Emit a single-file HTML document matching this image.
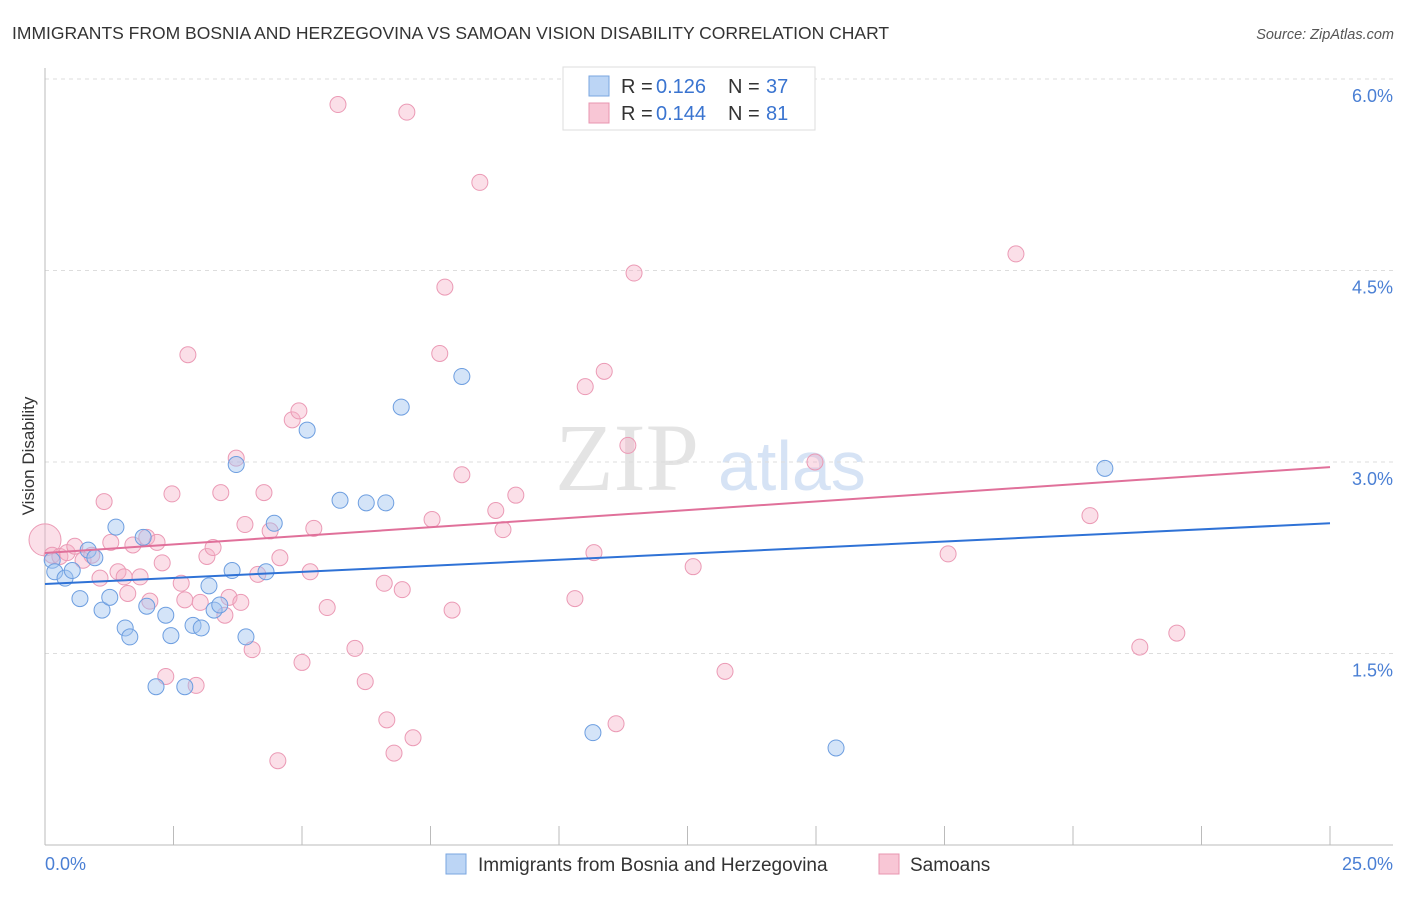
<!DOCTYPE html>
<html><head><meta charset="utf-8"><style>
body{margin:0;background:#fff;font-family:"Liberation Sans",sans-serif;}
svg text{font-family:"Liberation Sans",sans-serif;}
</style></head><body>
<svg id="chart" width="1406" height="892" xmlns="http://www.w3.org/2000/svg">
<text x="12" y="39" font-size="17.5" fill="#333">IMMIGRANTS FROM BOSNIA AND HERZEGOVINA VS SAMOAN VISION DISABILITY CORRELATION CHART</text>
<text x="1394" y="39" font-size="14.5" fill="#555" font-style="italic" text-anchor="end">Source: ZipAtlas.com</text>
<text transform="translate(34,456) rotate(-90)" font-size="17" fill="#333" text-anchor="middle">Vision Disability</text>
<g><text x="555" y="490" font-size="96" fill="#e4e4e4" font-family="Liberation Serif" style="font-family:'Liberation Serif',serif">ZIP</text><text x="718" y="490" font-size="70" fill="#d6e3f5">atlas</text></g>
<g id="grid"></g><g id="axes"></g><g id="marks"></g><g id="lines"></g>
<g>
<rect x="563" y="67" width="252" height="63" fill="#fff" stroke="#ddd"/>
<rect x="589" y="76" width="20" height="20" fill="#bcd5f5" stroke="#7aa6e0"/>
<text x="621" y="93" font-size="20" fill="#333">R = </text><text x="656" y="93" font-size="20" fill="#3a74d0">0.126</text>
<text x="728" y="93" font-size="20" fill="#333">N = </text><text x="766" y="93" font-size="20" fill="#3a74d0">37</text>
<rect x="589" y="103" width="20" height="20" fill="#f8c6d5" stroke="#e895b0"/>
<text x="621" y="120" font-size="20" fill="#333">R = </text><text x="656" y="120" font-size="20" fill="#3a74d0">0.144</text>
<text x="728" y="120" font-size="20" fill="#333">N = </text><text x="766" y="120" font-size="20" fill="#3a74d0">81</text>
</g>
<g>
<rect x="446" y="854" width="20" height="20" fill="#bcd5f5" stroke="#7aa6e0"/>
<text x="478" y="871" font-size="19" fill="#333">Immigrants from Bosnia and Herzegovina</text>
<rect x="879" y="854" width="20" height="20" fill="#f8c6d5" stroke="#e895b0"/>
<text x="910" y="871" font-size="19" fill="#333">Samoans</text>
</g>
</svg>
<script>
const yTicks=[1.5,3.0,4.5,6.0];
const yTickLabels=["1.5%","3.0%","4.5%","6.0%"];
const xTicks=[0,2.5,5,7.5,10,12.5,15,17.5,20,22.5,25];
const blueX=[0.14,0.19,0.39,0.53,0.68,0.84,0.97,1.11,1.26,1.38,1.56,1.65,1.91,1.98,2.16,2.35,2.45,2.72,2.88,3.04,3.19,3.29,3.40,3.64,3.72,3.91,4.30,4.46,5.10,5.74,6.25,6.63,6.93,8.11,10.66,15.39,20.62];
const blueY=[2.23,2.14,2.09,2.15,1.93,2.31,2.25,1.84,1.94,2.49,1.70,1.63,2.41,1.87,1.24,1.80,1.64,1.24,1.72,1.70,2.03,1.84,1.88,2.15,2.98,1.63,2.14,2.52,3.25,2.70,2.68,2.68,3.43,3.67,0.88,0.76,2.95];
const pinkX=[0,0.14,0.29,0.43,0.58,0.74,0.91,1.07,1.15,1.28,1.42,1.54,1.61,1.71,1.85,1.98,2.04,2.18,2.28,2.35,2.47,2.65,2.72,2.78,2.94,3.02,3.15,3.27,3.42,3.50,3.58,3.72,3.81,3.89,4.03,4.14,4.26,4.38,4.53,4.57,4.81,4.94,5.00,5.16,5.23,5.49,5.70,6.03,6.23,6.60,6.65,6.79,6.95,7.04,7.16,7.53,7.68,7.78,7.92,8.11,8.46,8.77,8.91,9.16,10.31,10.51,10.68,10.88,11.11,11.34,11.46,12.61,13.23,14.98,17.57,18.89,20.33,21.30,22.02];
const pinkY=[2.39,2.27,2.26,2.29,2.34,2.23,2.27,2.09,2.69,2.37,2.14,2.10,1.97,2.35,2.10,2.41,1.91,2.37,2.21,1.32,2.75,2.05,1.92,3.84,1.25,1.90,2.26,2.33,2.76,1.80,1.94,3.03,1.90,2.51,1.53,2.12,2.76,2.46,0.66,2.25,3.33,3.40,1.43,2.14,2.48,1.86,5.80,1.54,1.28,2.05,0.98,0.72,2.00,5.74,0.84,2.55,3.85,4.37,1.84,2.90,5.19,2.62,2.47,2.74,1.93,3.59,2.29,3.71,0.95,3.13,4.48,2.18,1.36,3.00,2.28,4.63,2.58,1.55,1.66];
const blueTrend=[2.044,2.52];
const pinkTrend=[2.287,2.96];
const NS="http://www.w3.org/2000/svg";
function xs(v){return 45+v*(1330-45)/25;}
function ys(v){return 845-v*127.67;}
function mk(t,a,p){const e=document.createElementNS(NS,t);for(const k in a)e.setAttribute(k,a[k]);p.appendChild(e);return e;}
const grid=document.getElementById('grid'),axes=document.getElementById('axes'),marks=document.getElementById('marks'),lines=document.getElementById('lines');
yTicks.forEach((t,i)=>{
 const l=mk('line',{x1:45,x2:1393,y1:ys(t),y2:ys(t),stroke:'#ddd','stroke-dasharray':'4,4'},grid);
 
 
 const tx=mk('text',{x:1393,y:ys(t)+23,'font-size':18,fill:'#4a7fd4','text-anchor':'end'},axes);
 tx.textContent=yTickLabels[i];
 
 
});
const ax=mk('line',{x1:45,x2:45,y1:68,y2:845,stroke:'#bbb'},axes);


const bx=mk('line',{x1:45,x2:1393,y1:845,y2:845,stroke:'#bbb'},axes);


xTicks.forEach(t=>{
 const l=mk('line',{x1:xs(t),x2:xs(t),y1:826,y2:845,stroke:'#bbb'},axes);
 
 
});
const x0=mk('text',{x:45,y:870,'font-size':18,fill:'#4a7fd4'},axes);x0.textContent='0.0%';


const x1=mk('text',{x:1393,y:870,'font-size':18,fill:'#4a7fd4','text-anchor':'end'},axes);x1.textContent='25.0%';


pinkX.forEach((v,i)=>{
 const c=mk('circle',{cx:xs(v),cy:ys(pinkY[i]),r:i===0?16:8,fill:'rgba(245,175,198,0.4)',stroke:'#eb9ab5','stroke-width':1},marks);
 
 
});
blueX.forEach((v,i)=>{
 const c=mk('circle',{cx:xs(v),cy:ys(blueY[i]),r:8,fill:'rgba(160,195,240,0.45)',stroke:'#6d9ee0','stroke-width':1},marks);
 
 
});
const bl=mk('line',{x1:xs(0),x2:xs(25),y1:ys(blueTrend[0]),y2:ys(blueTrend[1]),stroke:'#2f72d6','stroke-width':2},lines);


const pl=mk('line',{x1:xs(0),x2:xs(25),y1:ys(pinkTrend[0]),y2:ys(pinkTrend[1]),stroke:'#e0709a','stroke-width':2},lines);


</script>
</body></html>
